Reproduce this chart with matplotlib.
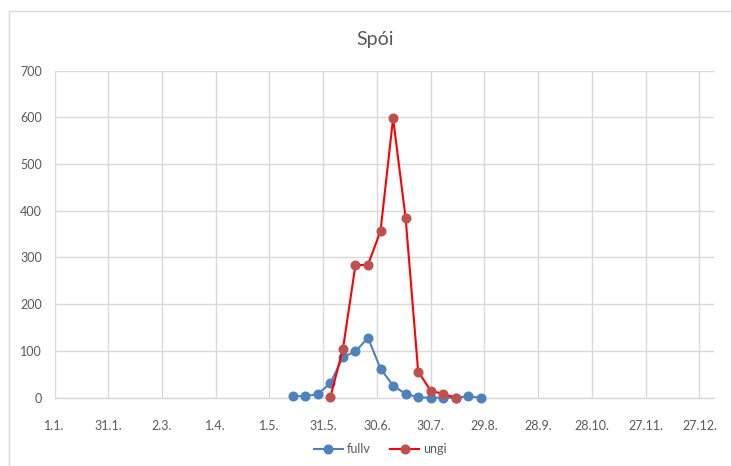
import matplotlib
matplotlib.use("Agg")
import matplotlib.pyplot as plt
from matplotlib.patches import Rectangle

# Data (x = day of year, 1 Jan = 0)
fullv_days = [133, 140, 147, 154, 161, 168, 175, 182, 189, 196, 203, 210, 217, 224, 231, 238]
fullv_vals = [4, 3, 8, 31, 87, 99, 128, 62, 26, 8, 1, 0, 0, 0, 3, 0]
ungi_days = [154, 161, 168, 175, 182, 189, 196, 203, 210, 217, 224]
ungi_vals = [2, 104, 284, 284, 357, 598, 384, 56, 15, 8, 0]

xtick_pos = [0, 30, 60, 90, 120, 150, 180, 210, 240, 270, 300, 330, 360]
xtick_labels = ["1.1.", "31.1.", "2.3.", "1.4.", "1.5.", "31.5.", "30.6.", "30.7.",
                "29.8.", "28.9.", "28.10.", "27.11.", "27.12."]
ytick_pos = [0, 100, 200, 300, 400, 500, 600, 700]

plt.rcParams['font.family'] = ['Lato', 'DejaVu Sans']
W, H = 731, 466
fig = plt.figure(figsize=(W / 100, H / 100), dpi=100)
fig.patch.set_facecolor('white')

# chart border
fig.patches.append(Rectangle((9 / W, -0.1), 1.2, 1.1 - 11 / H, transform=fig.transFigure,
                             fill=False, edgecolor='#D9D9D9', linewidth=1.0, zorder=0))

ax = fig.add_axes([54.5 / W, 1 - 397.7 / H, (714.3 - 54.5) / W, (397.7 - 70.5) / H])
ax.set_facecolor('white')

ax.plot(fullv_days, fullv_vals, color='#4F81BD', linewidth=1.5, marker='o',
        markersize=6.2, markerfacecolor='#4F81BD', markeredgecolor='#4F81BD',
        label='fullv', zorder=3, clip_on=False)
ax.plot(ungi_days, ungi_vals, color='#FF0000', linewidth=1.5, marker='o',
        markersize=6.2, markerfacecolor='#C0504D', markeredgecolor='#C0504D',
        label='ungi', zorder=4, clip_on=False)

ax.set_xlim(0, 368.3)
ax.set_ylim(0, 700)
ax.set_xticks(xtick_pos)
ax.set_xticklabels(xtick_labels)
ax.set_yticks(ytick_pos)
ax.grid(True, color='#D9D9D9', linewidth=1.0)
ax.set_axisbelow(True)
for s in ['top', 'right', 'left']:
    ax.spines[s].set_visible(False)
ax.spines['bottom'].set_color('#D9D9D9')
ax.spines['bottom'].set_linewidth(1.0)
ax.tick_params(axis='both', length=0, colors='#595959', labelsize=9)
ax.tick_params(axis='x', pad=16)
ax.tick_params(axis='y', pad=9)

fig.text(375 / W, 1 - 40 / H, 'Spói', ha='center', va='center', fontsize=14, color='#595959')

leg = fig.legend(loc='center', bbox_to_anchor=(380 / W, 1 - 449 / H), ncol=2, frameon=False,
                 fontsize=9, labelcolor='#595959', handlelength=2.3, columnspacing=1.6,
                 handletextpad=0.3)

fig.savefig('out.png', dpi=100, facecolor='white')
